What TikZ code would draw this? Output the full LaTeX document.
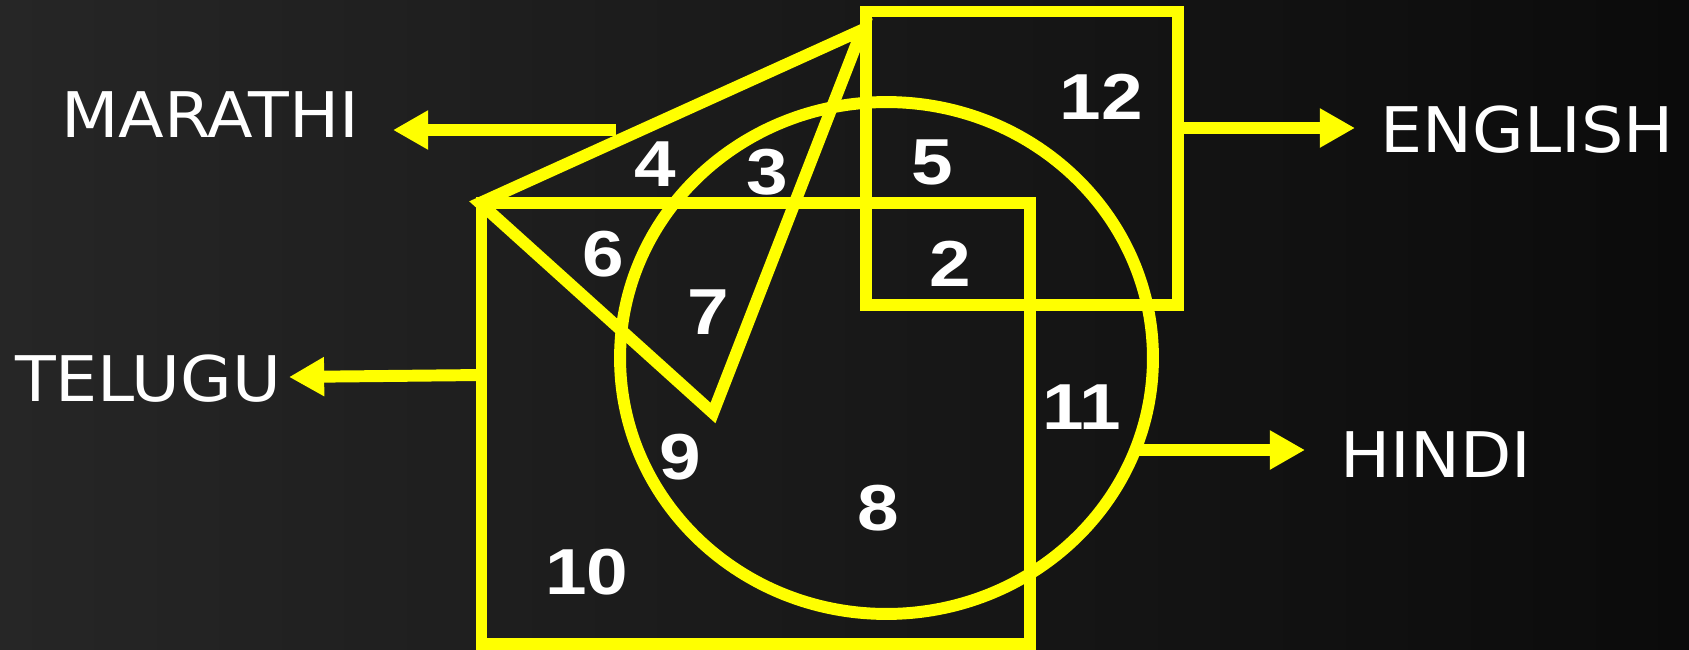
\documentclass[tikz,border=0pt]{standalone}
\usepackage{fontspec}
\usetikzlibrary{arrows.meta}
\newfontfamily\langfont{DejaVu Sans}
\newfontfamily\numfont{Liberation Sans}
\definecolor{vennyellow}{RGB}{255,255,0}
\definecolor{boardleft}{RGB}{38,38,38}
\definecolor{boardright}{RGB}{11,11,11}
\newcommand{\wide}[1]{\scalebox{1.06}[1]{#1}}
\newcommand{\widenum}[1]{\scalebox{1.15}[1]{#1}}

\begin{document}
\begin{tikzpicture}[x=0.02cm, y=-0.02cm, line width=6.8pt,
    setline/.style={draw=vennyellow},
    langarrow/.style={vennyellow, -{Triangle[length=20pt, width=21pt]}},
    langlabel/.style={text=white, inner sep=0pt, font=\langfont\fontsize{35.8}{40}\selectfont},
    region/.style={text=white, inner sep=0pt, font=\numfont\bfseries\fontsize{37}{40}\selectfont}]
        % Board background
        \shade[left color=boardleft, right color=boardright] (0,0) rectangle (1689,649);
        \useasboundingbox (0,0) rectangle (1689,649);

        % Language sets
        \draw[setline] (866,11.5) rectangle (1178,305);   % English
        \draw[setline] (481.5,203) rectangle (1030,644);  % Telugu
        \draw[setline] (886.5,358) ellipse [x radius=5.33cm, y radius=5.12cm]; % Hindi
        \draw[setline] (862,30) -- (480,203) -- (713,413) -- cycle; % Marathi

        % Language names
        \node[langlabel] (marathi) at (210,115) {\wide{MARATHI}};
        \node[langlabel] (english) at (1527,130) {\wide{ENGLISH}};
        \node[langlabel] (telugu) at (148,379) {\wide{TELUGU}};
        \node[langlabel] (hindi) at (1436,455) {\wide{HINDI}};

        % Pointers from the sets to their names
        \coordinate (marathiset) at (616,130);
        \coordinate (marathitip) at (393,130);
        \coordinate (englishset) at (1178,128);
        \coordinate (englishtip) at (1355,128);
        \coordinate (teluguset) at (481.5,375);
        \coordinate (telugutip) at (289,377);
        \coordinate (hindiset) at (1135,450);
        \coordinate (hinditip) at (1305,450);
        \draw[langarrow] (marathiset) -- (marathitip);
        \draw[langarrow] (englishset) -- (englishtip);
        \draw[langarrow] (teluguset) -- (telugutip);
        \draw[langarrow] (hindiset) -- (hinditip);

        % Region numbers
        \node[region] (r12) at (1101,97) {\widenum{12}};
        \node[region] (r4) at (655,164) {\widenum{4}};
        \node[region] (r3) at (767,172) {\widenum{3}};
        \node[region] (r5) at (932,162) {\widenum{5}};
        \node[region] (r6) at (603,254) {\widenum{6}};
        \node[region] (r2) at (950,264) {\widenum{2}};
        \node[region] (r7) at (708,312) {\widenum{7}};
        \node[region] (r11) at (1082,407) {\widenum{11}};
        \node[region] (r9) at (680,457) {\widenum{9}};
        \node[region] (r8) at (878,508) {\widenum{8}};
        \node[region] (r10) at (587,572) {\widenum{10}};
    \end{tikzpicture}
\end{document}
